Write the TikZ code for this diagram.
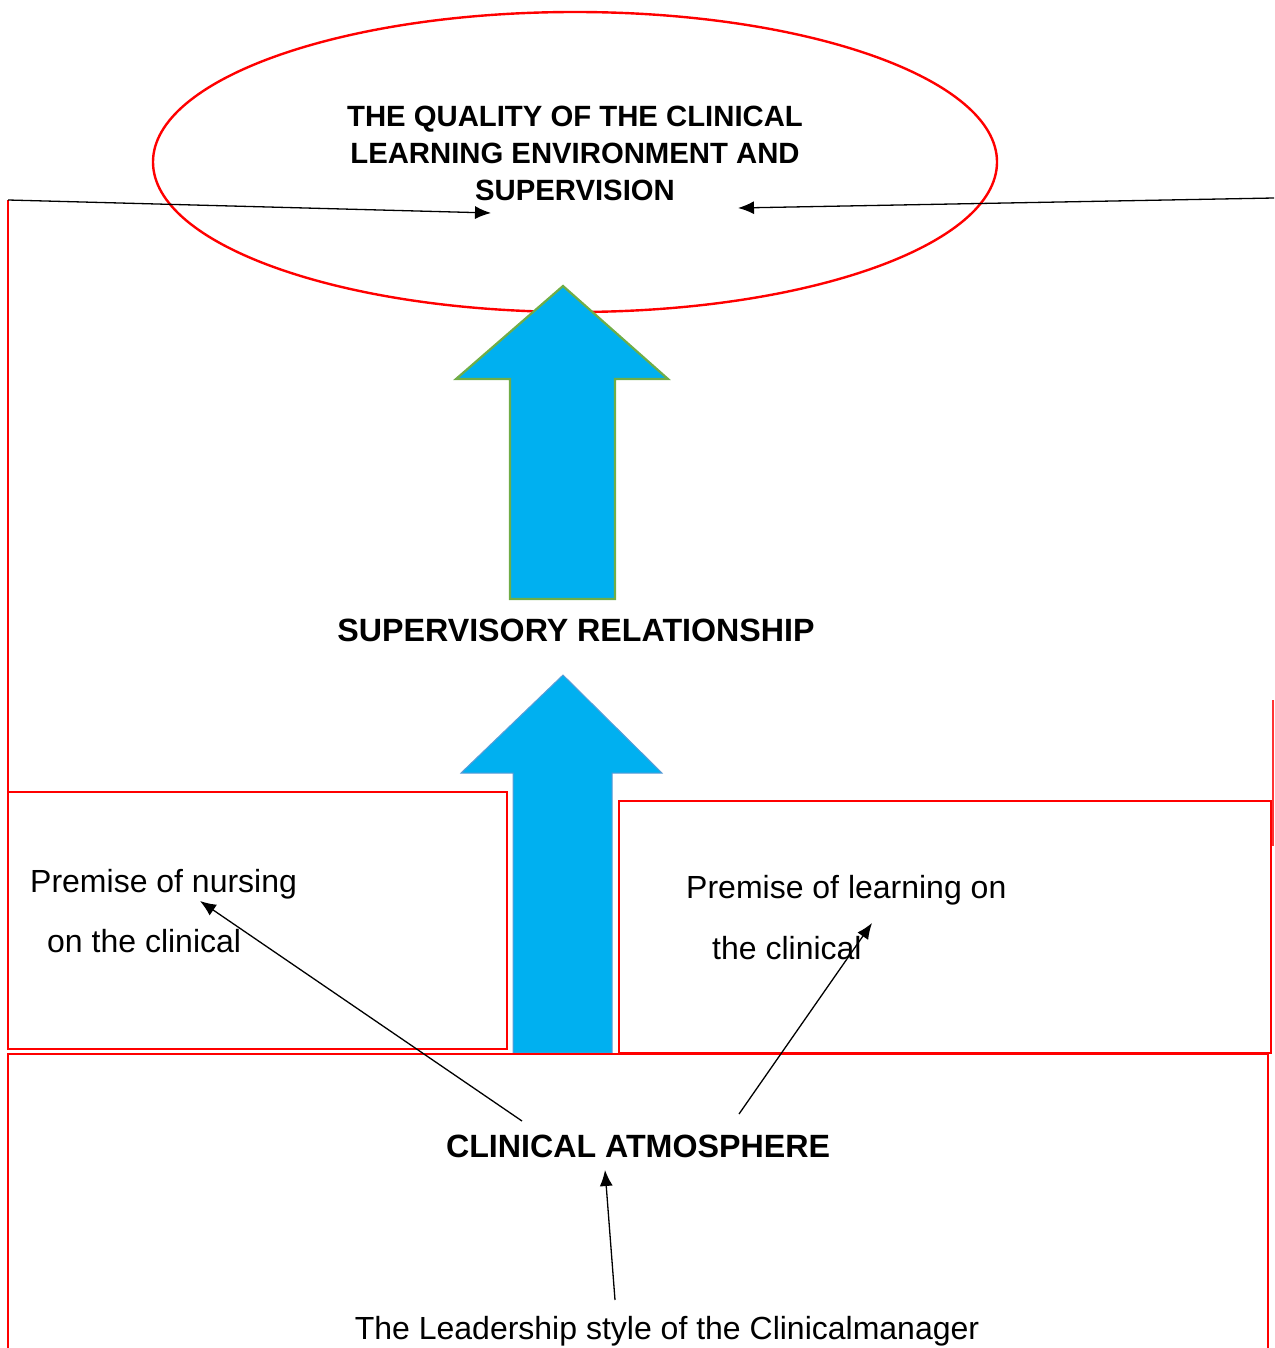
\documentclass[tikz,border=0pt]{standalone}
\usepackage{fontspec}
\setmainfont{Liberation Sans}
\usetikzlibrary{shapes.geometric,arrows.meta}
\definecolor{arrowblue}{HTML}{00B0F0}
\definecolor{arrowgreen}{HTML}{70AD47}
\definecolor{arrowedge}{HTML}{5B9BD5}
\tikzset{
  redline/.style={draw=red, line width=2.8pt},
  conn/.style={draw=black, line width=1.3pt, -{Latex[length=16pt,width=13pt]}},
  boldtxt/.style={font=\fontsize{32.2}{38}\selectfont\bfseries, inner sep=0pt},
  regtxt/.style={font=\fontsize{32}{38}\selectfont, inner sep=0pt},
}
\begin{document}
\begin{tikzpicture}[x=1pt,y=-1pt]
\useasboundingbox (0,0) rectangle (1274,1348);
% outer frame lines
\draw[red, line width=1.6pt] (8,200) -- (8,915);
\draw[red!80, line width=1.6pt] (1273,700) -- (1273,846);
% ellipse
\node[ellipse, draw=red, line width=2.4pt, minimum width=844pt, minimum height=300pt] (goal) at (575,162) {};
\node[font=\fontsize{29.3}{37}\selectfont\bfseries, align=center, inner sep=0pt, text depth=0pt] (title) at (575,153) {THE QUALITY OF THE CLINICAL\\LEARNING ENVIRONMENT AND\\SUPERVISION};
% top side connectors
\coordinate (tl) at (8,200);
\coordinate (tlend) at (491,213);
\coordinate (tr) at (1274,198);
\coordinate (trend) at (738,208);
\draw[conn] (tl) -- (tlend);
\draw[conn] (tr) -- (trend);
% upper block arrow
\draw[fill=arrowblue, draw=arrowgreen, line width=2.2pt]
  (563,286) -- (668,379) -- (615,379) -- (615,599) -- (510,599) -- (510,379) -- (456,379) -- cycle;
\node[boldtxt, anchor=base] (sup) at (576,641) {SUPERVISORY RELATIONSHIP};
% lower block arrow
\draw[fill=arrowblue, draw=arrowedge, line width=1pt]
  (563,675) -- (662,773) -- (612,773) -- (612,1053) -- (513,1053) -- (513,773) -- (461,773) -- cycle;
% boxes
\draw[redline] (8,792) rectangle (507,1049);
\draw[redline] (619,801) rectangle (1271,1053);
\draw[redline] (8,1350) -- (8,1054) -- (1268,1054) -- (1268,1350);
% texts
\node[regtxt, anchor=base west] (nurs1) at (30,892) {Premise of nursing};
\node[regtxt, anchor=base west] (nurs2) at (47,952) {on the clinical};
\node[regtxt, anchor=base west] (learn1) at (686,898) {Premise of learning on};
\node[regtxt, anchor=base west] (learn2) at (712,959) {the clinical};
\node[boldtxt, anchor=base] (atm) at (638,1157) {CLINICAL ATMOSPHERE};
\node[regtxt, anchor=base] (lead) at (667,1339) {The Leadership style of the Clinicalmanager};
% connectors
\coordinate (a1s) at (522,1121);
\coordinate (a1e) at (200,901);
\coordinate (a2s) at (739,1114);
\coordinate (a2e) at (872,923);
\coordinate (a3s) at (615,1300);
\coordinate (a3e) at (605,1170);
\draw[conn] (a1s) -- (a1e);
\draw[conn] (a2s) -- (a2e);
\draw[conn] (a3s) -- (a3e);
\end{tikzpicture}
\end{document}
